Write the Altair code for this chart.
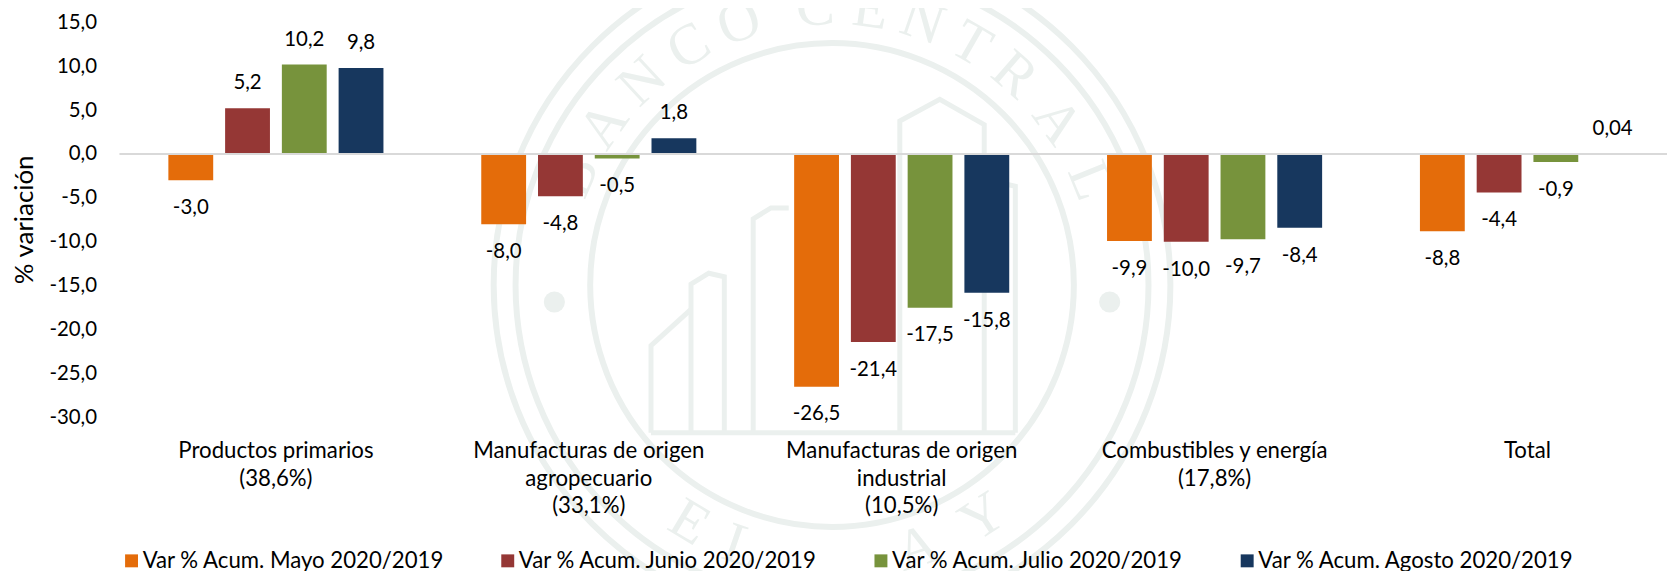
import altair as alt
import pandas as pd
import math

categories = ["Productos primarios|(38,6%)", "Manufacturas de origen|agropecuario|(33,1%)",
              "Manufacturas de origen|industrial|(10,5%)", "Combustibles y energía|(17,8%)", "Total"]
series = ["Var % Acum. Mayo 2020/2019", "Var % Acum. Junio 2020/2019",
          "Var % Acum. Julio 2020/2019", "Var % Acum. Agosto 2020/2019"]
colors = ["#E46C0A", "#953735", "#77933C", "#17375E"]
mayo = [-3.0, -8.0, -26.5, -9.9, -8.8]
junio = [5.2, -4.8, -21.4, -10.0, -4.4]
julio = [10.2, -0.5, -17.5, -9.7, -0.9]
agosto = [9.8, 1.8, -15.8, -8.4, 0.04]

# faint seal behind the chart (pixels inside the plot area)
SEAL = "#EBF0EE"
seal_cx, seal_cy = 716, 264
seal_rings = [340, 318, 243]
seal_dots = [(437, 281), (995, 281)]
seal_letters = list("BANCO") + list("CENTRAL") + list("EL") + list("AY")
seal_angles = [-67, -55, -43, -31, -19.5, -3.5, 8, 19, 30, 41, 54, 68, 211, 199, 162, 147]
seal_lines = [
    [(950, 1190), (950, 330), (1040, 270), (1140, 340), (1140, 1190)],
    [(620, 1190), (620, 600), (660, 570), (700, 570)],
    [(480, 1190), (480, 780), (520, 750), (555, 760), (555, 1190)],
    [(390, 1190), (390, 950), (480, 850)],
    [(390, 1190), (1210, 1190)],
    [(1140, 490), (1210, 510), (1210, 1190)],
]

rows = []
for name, vals in zip(series, [mayo, junio, julio, agosto]):
    for c, v in zip(categories, vals):
        rows.append({"cat": c, "serie": name, "val": v, "lab": str(v).replace(".", ",")})
df = pd.DataFrame(rows)

ring_df = pd.DataFrame({"px": [seal_cx] * len(seal_rings), "py": [seal_cy] * len(seal_rings),
                        "s": [(2 * r) ** 2 for r in seal_rings]})
dot_df = pd.DataFrame({"px": [d[0] for d in seal_dots], "py": [d[1] for d in seal_dots]})
let_rows = []
for ch, a in zip(seal_letters, seal_angles):
    t = math.radians(a)
    rot = a if -90 < a < 90 else a - 180
    let_rows.append({"px": seal_cx + 279 * math.sin(t), "py": seal_cy - 279 * math.cos(t),
                     "ch": ch, "rot": rot % 360})
let_df = pd.DataFrame(let_rows)
line_rows = []
for i, path in enumerate(seal_lines):
    for k, (a, b) in enumerate(path):
        line_rows.append({"g": i, "k": k, "px": 480 + a / 2.24 - 120, "py": b / 2.746 - 21})
line_df = pd.DataFrame(line_rows)

PX = alt.X("px:Q", scale=None, axis=None)
PY = alt.Y("py:Q", scale=None, axis=None)
rings = alt.Chart(ring_df).mark_point(shape="circle", filled=False, stroke=SEAL, strokeWidth=6, opacity=1).encode(
    x=PX, y=PY, size=alt.Size("s:Q", scale=None))
dots = alt.Chart(dot_df).mark_point(shape="circle", filled=True, color=SEAL, opacity=1, size=450).encode(x=PX, y=PY)
letters = alt.Chart(let_df).mark_text(font="Liberation Serif", fontSize=58, color=SEAL, baseline="middle").encode(
    x=PX, y=PY, text="ch:N", angle=alt.Angle("rot:Q", scale=None))
paths = alt.Chart(line_df).mark_line(color=SEAL, strokeWidth=5).encode(
    x=PX, y=PY, detail="g:N", order="k:Q")

FONT = "Lato"
FS = 20.5
FL = 22.3
x = alt.X("cat:N", sort=categories, title=None,
          scale=alt.Scale(paddingInner=0.3126, paddingOuter=0.1563, round=False),
          axis=alt.Axis(labelExpr="split(datum.label,'|')", labelAngle=0, ticks=False, domain=False,
                        labelFont=FONT, labelFontSize=FL, labelColor="#000", labelLineHeight=28,
                        labelPadding=22, labelAlign="center", labelBaseline="top", orient="bottom",
                        labelLimit=400, zindex=1))
xo = alt.XOffset("serie:N", sort=series, scale=alt.Scale(paddingInner=0.21, paddingOuter=0))
y = alt.Y("val:Q", title="% variación", scale=alt.Scale(domain=[-30, 15], nice=False),
          axis=alt.Axis(values=[15, 10, 5, 0, -5, -10, -15, -20, -25, -30], grid=False, ticks=False, domain=False,
                        labelExpr="replace(replace(format(datum.value,'.1f'),'.',','),'\u2212','-')",
                        labelFont=FONT, labelFontSize=FS,
                        labelColor="#000", labelPadding=23, titleFont=FONT, titleFontSize=26, titleFontWeight="normal",
                        titleColor="#000", titleX=-82, titleY=198, titleAnchor="middle", zindex=1))

bars = alt.Chart(df).mark_bar(cornerRadius=0).encode(
    x=x, xOffset=xo, y=y,
    color=alt.Color("serie:N", sort=series, scale=alt.Scale(domain=series, range=colors),
                    legend=alt.Legend(title=None, orient="none", legendX=1, legendY=530, direction="horizontal",
                                      columns=4, gridAlign="none", columnPadding=52, symbolType="square",
                                      symbolSize=169, symbolStrokeWidth=0, labelFont=FONT, labelFontSize=FL,
                                      labelColor="#000", labelOffset=0, padding=0, labelLimit=400)))

zero = alt.Chart(pd.DataFrame({"val": [0]})).mark_rule(color="#D9D9D9", strokeWidth=2).encode(
    y=y, x=alt.value(0), x2=alt.value(1572))

pos = alt.Chart(df).transform_filter("datum.val >= 0").mark_text(
    font=FONT, fontSize=FS, color="#000", dy=-25, baseline="middle").encode(
    x=x, xOffset=xo, y=y, text="lab:N")
neg = alt.Chart(df).transform_filter("datum.val < 0").mark_text(
    font=FONT, fontSize=FS, color="#000", dy=28, baseline="middle").encode(
    x=x, xOffset=xo, y=y, text="lab:N")

chart = alt.layer(rings, dots, letters, paths, bars, zero, pos, neg).properties(
    width=1572, height=397, background="white",
    autosize=alt.AutoSizeParams(type="none"),
    padding={"left": 112, "top": 13, "right": -17, "bottom": 153},
).configure_view(stroke=None)

chart.save("out.html", embed_options={"renderer": "svg", "actions": False})
